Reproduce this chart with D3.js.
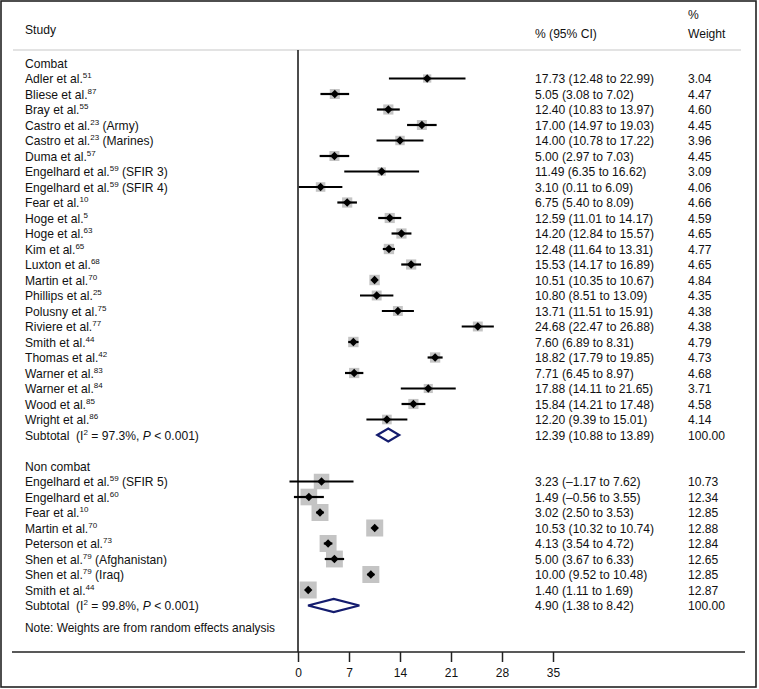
<!DOCTYPE html>
<html><head><meta charset="utf-8">
<script src="https://cdn.jsdelivr.net/npm/d3@7"></script>
<style>
html,body{margin:0;padding:0;background:#fff;}
text{font-family:"Liberation Sans",Arial,Helvetica,sans-serif;fill:#111;}
</style></head>
<body>
<script>
// ---- data ----
const combatNames = ["Adler et al.","Bliese et al.","Bray et al.","Castro et al.","Castro et al.","Duma et al.","Engelhard et al.","Engelhard et al.","Fear et al.","Hoge et al.","Hoge et al.","Kim et al.","Luxton et al.","Martin et al.","Phillips et al.","Polusny et al.","Riviere et al.","Smith et al.","Thomas et al.","Warner et al.","Warner et al.","Wood et al.","Wright et al."];
const combatRefs = ["51","87","55","23","23","57","59","59","10","5","63","65","68","70","25","75","77","44","42","83","84","85","86"];
const combatSuffix = ["","",""," (Army)"," (Marines)",""," (SFIR 3)"," (SFIR 4)","","","","","","","","","","","","","","",""];
const combatEst = [17.73,5.05,12.40,17.00,14.00,5.00,11.49,3.10,6.75,12.59,14.20,12.48,15.53,10.51,10.80,13.71,24.68,7.60,18.82,7.71,17.88,15.84,12.20];
const combatLo  = [12.48,3.08,10.83,14.97,10.78,2.97,6.35,0.11,5.40,11.01,12.84,11.64,14.17,10.35,8.51,11.51,22.47,6.89,17.79,6.45,14.11,14.21,9.39];
const combatHi  = [22.99,7.02,13.97,19.03,17.22,7.03,16.62,6.09,8.09,14.17,15.57,13.31,16.89,10.67,13.09,15.91,26.88,8.31,19.85,8.97,21.65,17.48,15.01];
const combatWeight = [3.04,4.47,4.60,4.45,3.96,4.45,3.09,4.06,4.66,4.59,4.65,4.77,4.65,4.84,4.35,4.38,4.38,4.79,4.73,4.68,3.71,4.58,4.14];
const combatPooled = {est:12.39, lo:10.88, hi:13.89, i2:"97.3%"};

const nonNames = ["Engelhard et al.","Engelhard et al.","Fear et al.","Martin et al.","Peterson et al.","Shen et al.","Shen et al.","Smith et al."];
const nonRefs = ["59","60","10","70","73","79","79","44"];
const nonSuffix = [" (SFIR 5)","","","",""," (Afghanistan)"," (Iraq)",""];
const nonEst = [3.23,1.49,3.02,10.53,4.13,5.00,10.00,1.40];
const nonLo  = [-1.17,-0.56,2.50,10.32,3.54,3.67,9.52,1.11];
const nonHi  = [7.62,3.55,3.53,10.74,4.72,6.33,10.48,1.69];
const nonWeight = [10.73,12.34,12.85,12.88,12.84,12.65,12.85,12.87];
const nonPooled = {est:4.90, lo:1.38, hi:8.42, i2:"99.8%"};

const xTicks = [0,7,14,21,28,35];

// ---- layout ----
const W = 759, H = 689;
const svg = d3.select("body").append("svg").attr("width",W).attr("height",H);
const FS = 12.1;
const x = d3.scaleLinear().domain([0,35]).range([298,553]);
const y = d3.scaleLinear().domain([0,35]).range([63,605.5]);
const sq = d3.scaleSqrt().domain([0,12.88]).range([0,17]);
const colText = 25, colCI = 535, colW = 688;
const fmt = d3.format(".2f");
const fnum = v => (v<0 ? "\u2013"+fmt(-v) : fmt(v));

// outer border
svg.append("rect").attr("x",1).attr("y",1).attr("width",755).attr("height",686)
  .attr("fill","none").attr("stroke","#222").attr("stroke-width",1.6);

// headers
svg.append("text").attr("x",colText).attr("y",34).attr("font-size",FS).text("Study");
svg.append("text").attr("x",colCI).attr("y",38).attr("font-size",FS).text("% (95% CI)");
svg.append("text").attr("x",colW).attr("y",19).attr("font-size",FS).text("%");
svg.append("text").attr("x",colW).attr("y",38).attr("font-size",FS).text("Weight");
svg.append("line").attr("x1",13).attr("x2",741).attr("y1",50).attr("y2",50)
  .attr("stroke","#c8c8c8").attr("stroke-width",1.2);

// null line
svg.append("line").attr("x1",x(0)).attr("x2",x(0)).attr("y1",50).attr("y2",652)
  .attr("stroke","#111").attr("stroke-width",1.5);

// build rows
const rows = [];
combatNames.forEach((n,i)=>rows.push({row:i+1,name:n,ref:combatRefs[i],suf:combatSuffix[i],est:combatEst[i],lo:combatLo[i],hi:combatHi[i],w:combatWeight[i]}));
nonNames.forEach((n,i)=>rows.push({row:i+27,name:n,ref:nonRefs[i],suf:nonSuffix[i],est:nonEst[i],lo:nonLo[i],hi:nonHi[i],w:nonWeight[i]}));

const dy = 4.5;
svg.append("text").attr("x",colText).attr("y",y(0)+dy).attr("font-size",FS).text("Combat");
svg.append("text").attr("x",colText).attr("y",y(26)+dy).attr("font-size",FS).text("Non combat");

const g = svg.append("g");
rows.forEach(d=>{
  const yy = y(d.row);
  const t = g.append("text").attr("x",colText).attr("y",yy+dy).attr("font-size",FS);
  t.append("tspan").text(d.name);
  t.append("tspan").attr("font-size",8).attr("dy",-5).text(d.ref);
  t.append("tspan").attr("dy",5).text(d.suf);
  g.append("text").attr("x",colCI).attr("y",yy+dy).attr("font-size",FS)
    .text(`${fnum(d.est)} (${fnum(d.lo)} to ${fnum(d.hi)})`);
  g.append("text").attr("x",colW).attr("y",yy+dy).attr("font-size",FS).text(fmt(d.w));
  const s = sq(d.w);
  g.append("rect").attr("x",x(d.est)-s/2).attr("y",yy-s/2).attr("width",s).attr("height",s)
    .attr("fill","#c4c4c4");
  g.append("line").attr("x1",x(d.lo)).attr("x2",x(d.hi)).attr("y1",yy).attr("y2",yy)
    .attr("stroke","#000").attr("stroke-width",2.2);
  const r = 4.2;
  g.append("path").attr("d",`M${x(d.est)-r},${yy}L${x(d.est)},${yy-r}L${x(d.est)+r},${yy}L${x(d.est)},${yy+r}Z`)
    .attr("fill","#000");
});

// pooled
[[24,combatPooled],[35,nonPooled]].forEach(([row,p])=>{
  const yy = y(row);
  const t = svg.append("text").attr("x",colText).attr("y",yy+dy).attr("font-size",FS);
  t.append("tspan").text("Subtotal\u00a0\u00a0(I");
  t.append("tspan").attr("font-size",8).attr("dy",-5).text("2");
  t.append("tspan").attr("dy",5).text(` = ${p.i2}, `);
  t.append("tspan").attr("font-style","italic").text("P");
  t.append("tspan").text(" < 0.001)");
  svg.append("text").attr("x",colCI).attr("y",yy+dy).attr("font-size",FS)
    .text(`${fnum(p.est)} (${fnum(p.lo)} to ${fnum(p.hi)})`);
  svg.append("text").attr("x",colW).attr("y",yy+dy).attr("font-size",FS).text("100.00");
  const h = 6.5;
  svg.append("path").attr("d",`M${x(p.lo)},${yy}L${x(p.est)},${yy-h}L${x(p.hi)},${yy}L${x(p.est)},${yy+h}Z`)
    .attr("fill","#fff").attr("stroke","#141c6e").attr("stroke-width",2.2);
});

svg.append("text").attr("x",colText).attr("y",632).attr("font-size",11.9)
  .text("Note: Weights are from random effects analysis");

// axis
svg.append("line").attr("x1",12).attr("x2",745).attr("y1",652).attr("y2",652)
  .attr("stroke","#222").attr("stroke-width",1.5);
const ax = svg.append("g").attr("transform","translate(0,652)")
  .call(d3.axisBottom(x).tickValues(xTicks).tickSize(10).tickSizeOuter(0).tickPadding(6));
ax.select(".domain").remove();
ax.selectAll(".tick line").attr("stroke","#222").attr("stroke-width",1.5);
ax.selectAll(".tick text").attr("font-size",12).attr("font-family","Liberation Sans, Arial, sans-serif").attr("fill","#111");
</script>
</body></html>
